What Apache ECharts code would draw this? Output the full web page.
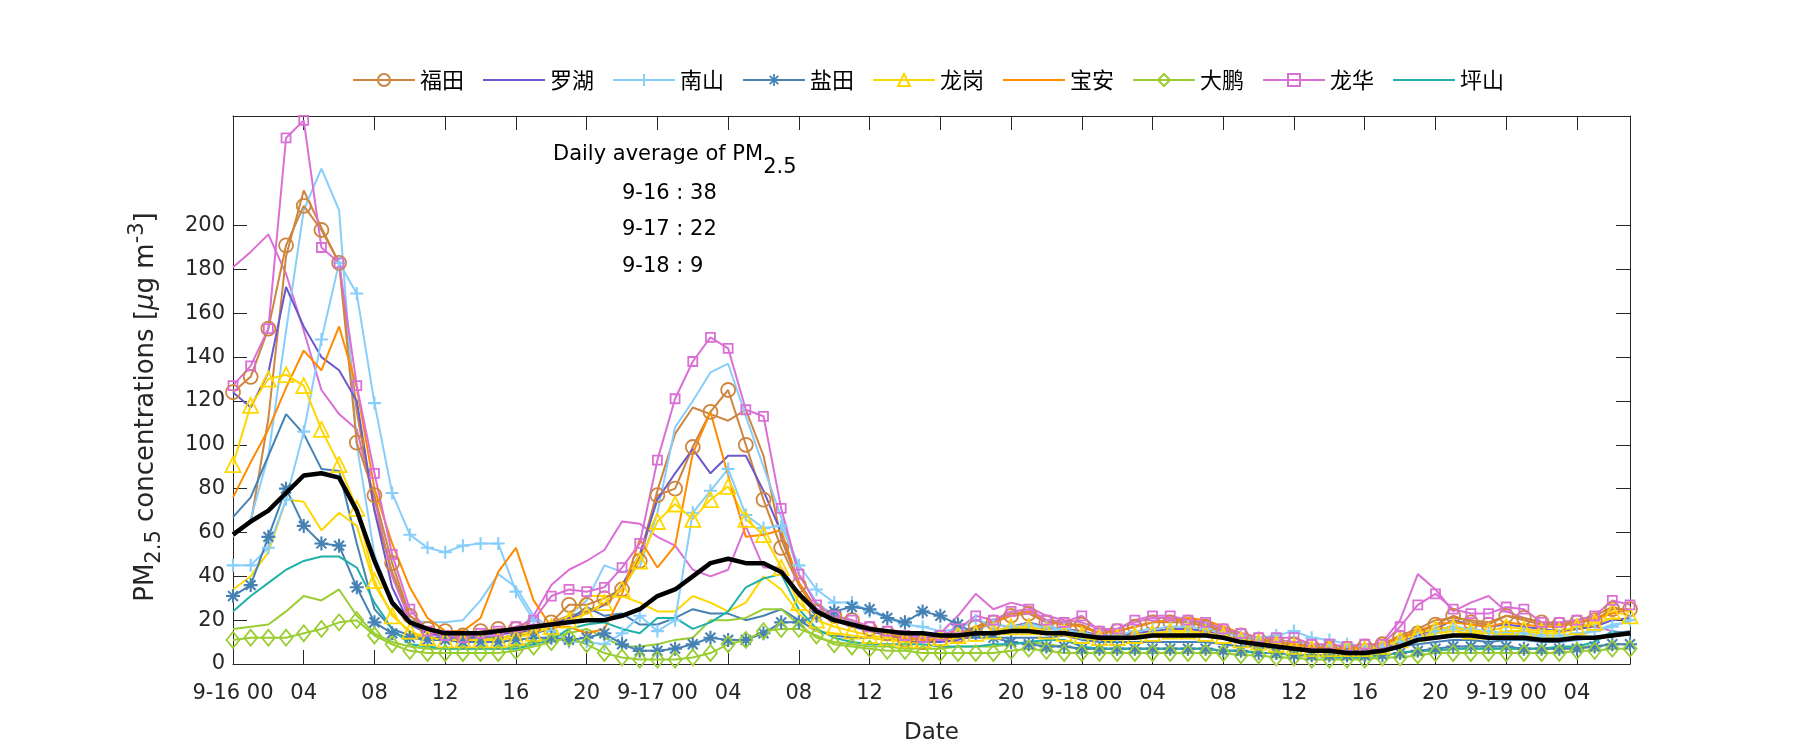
<!DOCTYPE html>
<html><head><meta charset="utf-8">
<script src="https://cdn.jsdelivr.net/npm/echarts@6/dist/echarts.min.js"></script>
<style>html,body{margin:0;padding:0;background:#fff}#c{width:1800px;height:750px}</style>
</head><body><div id="c"></div>
<script>
// hours since 9-16 00:00
const hours = [0,1,2,3,4,5,6,7,8,9,10,11,12,13,14,15,16,17,18,19,20,21,22,23,24,25,26,27,28,29,30,31,32,33,34,35,36,37,38,39,40,41,42,43,44,45,46,47,48,49,50,51,52,53,54,55,56,57,58,59,60,61,62,63,64,65,66,67,68,69,70,71,72,73,74,75,76,77,78,79];
const tickHours = [0,4,8,12,16,20,24,28,32,36,40,44,48,52,56,60,64,68,72,76];
const tickLabels = ['9-16 00','04','08','12','16','20','9-17 00','04','08','12','16','20','9-18 00','04','08','12','16','20','9-19 00','04'];
const yTicks = [0,20,40,60,80,100,120,140,160,180,200];
const legendNames = ['福田','罗湖','南山','盐田','龙岗','宝安','大鹏','龙华','坪山'];
const noMarkerNames = ['罗湖','宝安','坪山'];

const futian1 = [124,131,153,191,209,198,183,101,77,46, 22,16,15,13,15,16,16,17,19,27, 27,30,34,47,77,80,99,115,125,100, 75,53,36,24,22,20,16,14,11,10, 11,13,17,19,22,23,19,18,18,14, 15,17,19,19,19,17,15,13,11,10, 9,8,7,7,8,9,12,14,18,22, 19,18,22,21,19,18,19,20,25,25];
const futian2 = [60,64,112,186,216,199,183,115,70,42, 22,16,14,13,14,15,15,16,19,22, 24,27,34,49,79,105,117,114,111,116, 95,57,37,25,21,19,16,14,12,11, 12,14,17,20,23,24,20,19,17,14, 15,17,19,20,20,18,15,13,11,10, 9,8,7,7,8,9,13,16,20,21, 20,19,22,20,18,18,20,22,26,24];
const luohu = [124,117,133,172,154,140,134,120,70,35, 18,14,13,12,13,14,14,16,18,21, 23,27,36,50,75,87,98,87,95,95, 79,60,37,25,20,17,15,13,11,10, 10,11,13,15,17,19,17,16,15,13, 13,14,15,16,16,15,13,11,10,9, 8,7,6,6,6,7,10,13,16,20, 18,17,18,17,16,15,16,17,20,21];
const nanshan1 = [45,45,53,75,106,148,183,169,119,78, 59,53,51,54,55,55,33,20,15,10, 10,9,14,22,15,20,69,79,89,68, 62,63,45,34,28,28,24,21,18,17, 15,16,20,18,17,18,17,16,14,13, 13,15,16,17,17,16,14,13,12,13, 15,12,11,9,8,8,10,12,15,17, 16,15,14,14,13,13,14,15,17,20];
const nanshan2 = [58,66,95,152,207,226,207,100,50,28, 20,19,19,20,29,41,35,22,16,22, 29,45,42,44,69,108,120,133,137,113, 90,67,41,28,22,19,16,14,13,12, 13,14,16,18,17,17,16,15,13,12, 12,13,14,15,15,14,13,12,11,10, 10,9,8,7,7,7,9,11,14,16, 15,14,13,13,12,12,13,15,18,19];
const yantian1 = [31,36,58,80,63,55,54,35,19,14, 12,11,11,10,10,10,11,12,12,11, 12,14,9,6,6,7,9,12,11,11, 14,19,19,22,24,26,25,21,19,24, 22,18,14,12,10,9,8,8,7,7, 7,7,7,7,7,7,6,6,5,5, 4,4,4,4,4,4,5,6,7,8, 8,8,8,7,7,7,7,8,9,9];
const yantian2 = [67,76,95,114,105,89,88,55,25,16, 13,12,12,12,12,12,13,14,16,20, 26,22,23,18,18,21,25,23,23,20, 22,25,20,15,13,12,12,11,11,12, 12,12,12,12,12,12,12,13,11,10, 10,10,10,10,10,10,9,8,8,7, 7,6,6,6,6,7,8,9,10,11, 11,10,11,11,10,10,11,12,14,15];
const longgang1 = [91,118,130,132,127,107,91,71,38,22, 15,12,11,11,11,11,12,14,17,20, 23,28,34,47,65,73,66,75,81,66, 59,44,28,20,17,15,13,12,11,11, 12,13,14,15,17,17,15,14,13,12, 12,13,14,15,15,14,13,11,10,9, 8,7,7,7,7,8,11,14,16,17, 15,15,17,16,15,15,17,19,24,22];
const longgang2 = [34,40,51,75,74,61,69,63,36,23, 14,12,11,11,11,12,13,15,18,22, 31,31,31,28,24,24,31,28,24,28, 40,34,23,15,14,13,12,11,10,10, 11,12,13,15,16,16,14,13,12,11, 11,12,13,14,14,13,12,10,9,8, 7,6,6,6,6,7,10,12,14,15, 14,14,15,15,14,14,16,18,21,20];
const baoan = [76,92,107,126,143,134,154,126,80,55, 35,21,15,15,21,42,53,29,17,17, 14,16,32,57,44,54,96,115,86,58, 59,61,37,24,20,18,16,14,12,11, 11,13,16,19,22,24,20,18,17,14, 15,17,19,20,21,20,17,14,12,10, 9,8,7,7,8,9,12,15,18,19, 18,17,19,18,17,17,19,21,23,25];
const dapeng1 = [11,12,12,12,14,16,19,20,13,9, 6,5,5,5,5,5,6,8,10,12, 9,5,3,2,2,2,3,5,9,11, 15,16,16,13,9,8,7,6,6,5, 5,5,5,5,6,7,6,5,5,5, 5,5,5,5,5,5,5,4,4,3, 3,2,2,2,2,3,3,4,5,5, 5,5,5,5,5,5,6,6,7,7];
const dapeng2 = [16,17,18,24,31,29,34,22,14,10, 8,7,7,7,7,7,8,10,12,14, 16,12,8,8,9,11,12,20,20,21, 25,25,18,12,10,9,8,8,7,7, 7,8,8,8,9,10,9,8,7,7, 7,7,7,7,7,7,6,6,5,5, 4,4,3,3,3,4,5,6,6,7, 7,7,7,7,7,7,8,8,9,9];
const longhua1 = [127,136,153,240,248,190,183,127,87,50, 25,15,13,12,14,15,17,20,31,34, 33,35,44,55,93,121,138,149,144,116, 113,71,41,27,22,20,17,15,13,12, 13,16,22,20,24,25,20,19,22,15, 16,20,22,22,20,19,16,14,12,12, 12,9,9,8,9,9,17,27,32,25, 23,23,26,25,19,19,20,22,29,27];
const longhua2 = [181,188,196,178,152,125,114,107,75,40, 20,14,12,11,12,13,15,22,36,43, 47,52,65,64,58,54,43,40,43,63, 44,44,32,25,21,19,16,14,13,13, 14,22,32,25,28,26,22,20,19,16, 16,19,21,21,20,19,16,14,12,11, 10,9,8,8,8,10,20,41,34,24, 28,31,24,21,19,18,18,17,15,14];
const pingshan = [24,31,37,43,47,49,49,44,28,16, 9,8,7,7,7,7,7,9,11,16, 18,19,16,14,21,21,16,19,24,35, 39,41,25,16,12,10,9,9,9,9, 8,8,8,9,9,10,11,11,8,7, 7,7,7,7,7,7,6,6,5,5, 4,4,3,3,3,4,5,6,6,7, 7,7,7,7,7,8,8,10,15,13];
const average = [59,65,70,78,86,87,85,70,47,28, 19,16,14,14,14,15,16,17,18,19, 20,20,22,25,31,34,40,46,48,46, 46,42,32,24,20,18,16,15,14,14, 13,13,14,14,15,15,14,14,13,12, 12,12,13,13,13,13,12,10,9,8, 7,6,6,5,5,6,8,11,12,13, 13,12,12,12,11,11,12,12,13,14];

const FONT = 'DejaVu Sans, Noto Sans CJK SC, sans-serif';
const AX = '#262626';
const PLUS = 'path://M-1.6,-10L1.6,-10L1.6,10L-1.6,10Z M-10,-1.6L10,-1.6L10,1.6L-10,1.6Z';
const STAR = 'path://M-1.5,-10L1.5,-10L1.5,10L-1.5,10Z M-10,-1.5L10,-1.5L10,1.5L-10,1.5Z M-6,-8.1L8.1,6L6,8.1L-8.1,-6Z M-8.1,6L6,-8.1L8.1,-6L-6,8.1Z';

function pairs(arr){ return hours.map((h,i)=>[h, arr[i]]); }
function mk(name, arr, color, symbol, size, opts){
  opts = opts || {};
  const hollow = opts.hollow;
  return {
    type:'line', name:name, data:pairs(arr),
    symbol: symbol || 'none', symbolSize: size || 0, showSymbol: !!symbol,
    lineStyle:{color:color, width: opts.width || 2},
    itemStyle: hollow ? {color:'rgba(255,255,255,0)', borderColor:color, borderWidth:1.8} : {color:color},
    emphasis:{disabled:true}, z: opts.z || 2, clip:true
  };
}

const series = [
  mk('龙华 2', longhua2, '#DA70D6'),
  mk('福田 2', futian2, '#CD853F'),
  mk('南山 2', nanshan2, '#87CEFA'),
  mk('盐田 2', yantian2, '#4682B4'),
  mk('龙岗 2', longgang2, '#FFD700'),
  mk('大鹏 2', dapeng2, '#9ACD32'),
  mk('福田', futian1, '#CD853F', 'circle', 14, {hollow:true}),
  mk('罗湖', luohu, '#6A5ACD'),
  mk('南山', nanshan1, '#87CEFA', PLUS, 13),
  mk('盐田', yantian1, '#4682B4', STAR, 14),
  mk('龙岗', longgang1, '#FFD700', 'triangle', 15, {hollow:true}),
  mk('宝安', baoan, '#FF8C00'),
  mk('大鹏', dapeng1, '#9ACD32', 'diamond', [13,16], {hollow:true}),
  mk('龙华', longhua1, '#DA70D6', 'rect', 9, {hollow:true}),
  mk('坪山', pingshan, '#20B2AA'),
  mk('平均', average, '#000000', null, 0, {width:4.5, z:5})
];

const legendData = legendNames.map(n => noMarkerNames.indexOf(n) >= 0
  ? {name:n, itemStyle:{color:'rgba(0,0,0,0)', borderColor:'rgba(0,0,0,0)', borderWidth:0, opacity:0}}
  : {name:n});

const chart = echarts.init(document.getElementById('c'));
const axisCommonX = {
  type:'value', min:0, max:79,
  axisLine:{show:true, onZero:false, lineStyle:{color:AX, width:1}},
  axisTick:{show:true, inside:true, length:14, customValues:tickHours, lineStyle:{color:AX, width:1}},
  splitLine:{show:false}
};
const axisCommonY = {
  type:'value', min:0, max:250,
  axisLine:{show:true, onZero:false, lineStyle:{color:AX, width:1}},
  axisTick:{show:true, inside:true, length:14, customValues:yTicks, lineStyle:{color:AX, width:1}},
  splitLine:{show:false}
};
chart.setOption({
  animation:false,
  backgroundColor:'#ffffff',
  textStyle:{fontFamily:FONT},
  grid:{left:233, right:170, top:116, bottom:86, containLabel:false},
  legend:{
    data:legendData, left:347, top:64, orient:'horizontal',
    itemWidth:62, itemHeight:15, itemGap:18,
    textStyle:{fontSize:22, color:'#000', fontFamily:'Noto Sans CJK SC'}
  },
  xAxis:[
    Object.assign({}, axisCommonX, {
      position:'bottom',
      axisLabel:{customValues:tickHours, fontSize:21, color:AX, margin:19,
        formatter:function(v){ const i = tickHours.indexOf(v); return i>=0 ? tickLabels[i] : ''; }},
      name:'Date', nameLocation:'middle', nameGap:58,
      nameTextStyle:{fontSize:23, color:AX}
    }),
    Object.assign({}, axisCommonX, {position:'top', axisLabel:{show:false}})
  ],
  yAxis:[
    Object.assign({}, axisCommonY, {
      position:'left',
      axisLabel:{customValues:yTicks, fontSize:21, color:AX, margin:8}
    }),
    Object.assign({}, axisCommonY, {position:'right', axisLabel:{show:false}})
  ],
  graphic:[
    {type:'text', x:146, y:407, rotation:Math.PI/2, z:10, style:{
      text:'{n|PM}{sub|2.5}{n| concentrations [}{it|μ}{n|g m}{sup|-3}{n|]}',
      align:'center', verticalAlign:'middle',
      rich:{
        n:{fontSize:26, fill:AX, fontFamily:FONT},
        it:{fontSize:26, fill:AX, fontStyle:'italic', fontFamily:FONT},
        sub:{fontSize:21, fill:AX, padding:[17,0,0,0], fontFamily:FONT},
        sup:{fontSize:21, fill:AX, padding:[0,0,17,0], fontFamily:FONT}
      }
    }},
    {type:'text', left:553, top:144, z:10, style:{
      text:'{n|Daily average of PM}{sub|2.5}',
      rich:{n:{fontSize:21, fill:'#000', fontFamily:FONT}, sub:{fontSize:21, fill:'#000', fontFamily:FONT, padding:[26,0,0,0]}}
    }},
    {type:'text', left:622, top:183, z:10, style:{text:'9-16 : 38', fontSize:21, fill:'#000', fontFamily:FONT}},
    {type:'text', left:622, top:219, z:10, style:{text:'9-17 : 22', fontSize:21, fill:'#000', fontFamily:FONT}},
    {type:'text', left:622, top:256, z:10, style:{text:'9-18 : 9', fontSize:21, fill:'#000', fontFamily:FONT}}
  ],
  series:series
});
</script>
</body></html>
